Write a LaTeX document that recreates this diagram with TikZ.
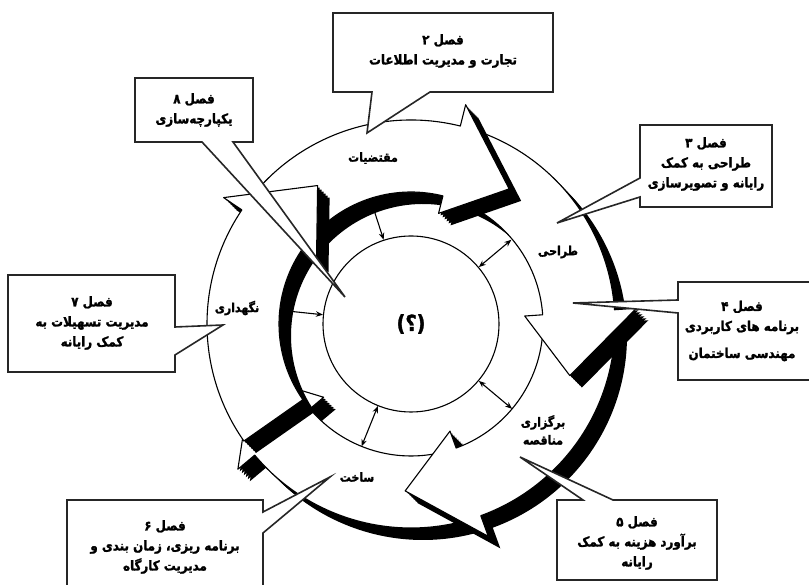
\documentclass[tikz,border=0pt]{standalone}
\usepackage{fontspec}
\usepackage{tikz}
\usetikzlibrary{arrows.meta, positioning}
\TeXXeTstate=1
\newfontfamily\persianfont[Script=Arabic, FakeStretch=0.88, BoldFeatures={FakeBold=1.6}]{DejaVu Sans}
\newcommand{\rl}[1]{\beginR #1\endR}

\tikzset{
  rim/.style={line width=1.1pt, line join=round},
  callout/.style={draw=black!85, fill=white, line width=1.6pt, line join=miter},
  chaptext/.style={font=\persianfont\bfseries\fontsize{13.5}{20}\selectfont, align=center, inner sep=0pt},
  ringtext/.style={font=\persianfont\bfseries\fontsize{12.5}{18}\selectfont, align=center, inner sep=0pt},
  link/.style={line width=1.1pt, -{Stealth[length=7pt, width=5.5pt]}},
  dlink/.style={line width=1.1pt, {Stealth[length=7pt, width=5.5pt]}-{Stealth[length=7pt, width=5.5pt]}},
}

\begin{document}
\begin{tikzpicture}[x=1pt, y=1pt, >=Stealth]
  \useasboundingbox (0,0) rectangle (809,585);

  \begin{scope}[shift={(411,261)}]
    % --- cycle arrows: tail angle / back of head, drawn so each head lies on the next tail ---
    % (the maintenance tail lies over the construction head)
    \foreach \ta/\ba in {-73/-140, 1/-70, 73/4, 143/76, -145/-214} {
      \pgfmathsetmacro{\tp}{\ba-22}
      % extruded shadow
      \foreach \k in {0,2,...,12}
        \fill[black, shift={(\k,-\k)}] (\ta:132) -- (\ta:204)
          arc[start angle=\ta, end angle=\ba, radius=204]
          -- (\ba:226) -- (\tp:167) -- (\ba:114) -- (\ba:132)
          arc[start angle=\ba, end angle=\ta, radius=132] -- cycle;
      % face
      \filldraw[rim, fill=white] (\ta:132) -- (\ta:204)
        arc[start angle=\ta, end angle=\ba, radius=204]
        -- (\ba:226) -- (\tp:167) -- (\ba:114) -- (\ba:132)
        arc[start angle=\ba, end angle=\ta, radius=132] -- cycle;
    }

    % --- centre circle ---
    \node[draw, circle, rim, minimum size=176pt, inner sep=0pt,
      font=\persianfont\bfseries\fontsize{22}{24}\selectfont] (core) at (0,0) {(؟)};

    % --- links between ring and centre ---
    \coordinate (reqrim) at (108:118);
    \coordinate (desrim) at (40:131);
    \coordinate (tndrim) at (-40:132);
    \coordinate (conrim) at (-112:132);
    \coordinate (mntrim) at (174:119);
    \draw[link] (reqrim) -- (core.108);
    \draw[link] (mntrim) -- (core.174);
    \draw[dlink] (desrim) -- (core.40);
    \draw[dlink] (tndrim) -- (core.320);
    \draw[dlink] (conrim) -- (core.248);
  \end{scope}

  % --- ring labels ---
  \node[ringtext] (req) at (373,427) {\rl{مقتضیات}};
  \node[ringtext] (des) at (558,333) {\rl{طراحی}};
  \node[ringtext] (tnd) at (543,155) {\rl{برگزاری}\\\rl{مناقصه}};
  \node[ringtext] (con) at (357,108) {\rl{ساخت}};
  \node[ringtext] (mnt) at (237,277) {\rl{نگهداری}};

  % --- chapter callouts ---
  \draw[callout] (333,572) -- (553,572) -- (553,493) -- (430,493) -- (367,452) -- (372,493) -- (333,493) -- cycle;
  \node[chaptext] (ch2) at (443,534) {\rl{فصل ۲}\\\rl{تجارت و مدیریت اطلاعات}};

  \draw[callout] (135,507) -- (253,507) -- (253,443) -- (233,443) -- (345,288) -- (202,443) -- (135,443) -- cycle;
  \node[chaptext] (ch8) at (194,475) {\rl{فصل ۸}\\\rl{یکپارچه‌سازی}};

  \draw[callout] (640,460) -- (772,460) -- (772,378) -- (640,378) -- (640,388) -- (557,362) -- (640,407) -- cycle;
  \node[chaptext] (ch3) at (706,421) {\rl{فصل ۳}\\\rl{طراحی به کمک}\\\rl{رایانه و تصویرسازی}};

  \draw[callout] (678,303) -- (812,303) -- (812,205) -- (678,205) -- (678,272) -- (573,282) -- (678,285) -- cycle;
  \node[chaptext] (ch4) at (742,254) {\rl{فصل ۴}\\\rl{برنامه های کاربردی}\\[7pt]\rl{مهندسی ساختمان}};

  \draw[callout] (8,310) -- (175,310) -- (175,258) -- (223,260) -- (175,230) -- (175,213) -- (8,213) -- cycle;
  \node[chaptext] (ch7) at (92,262) {\rl{فصل ۷}\\\rl{مدیریت تسهیلات به}\\\rl{کمک رایانه}};

  \draw[callout] (67,85) -- (263,85) -- (263,73) -- (330,108) -- (263,52) -- (263,-5) -- (67,-5) -- cycle;
  \node[chaptext] (ch6) at (165,38) {\rl{فصل ۶}\\\rl{برنامه ریزی، زمان بندی و}\\\rl{مدیریت کارگاه}};

  \draw[callout] (557,85) -- (583,85) -- (520,128) -- (613,85) -- (717,85) -- (717,5) -- (557,5) -- cycle;
  \node[chaptext] (ch5) at (637,42) {\rl{فصل ۵}\\\rl{برآورد هزینه به کمک}\\\rl{رایانه}};

\end{tikzpicture}
\end{document}
